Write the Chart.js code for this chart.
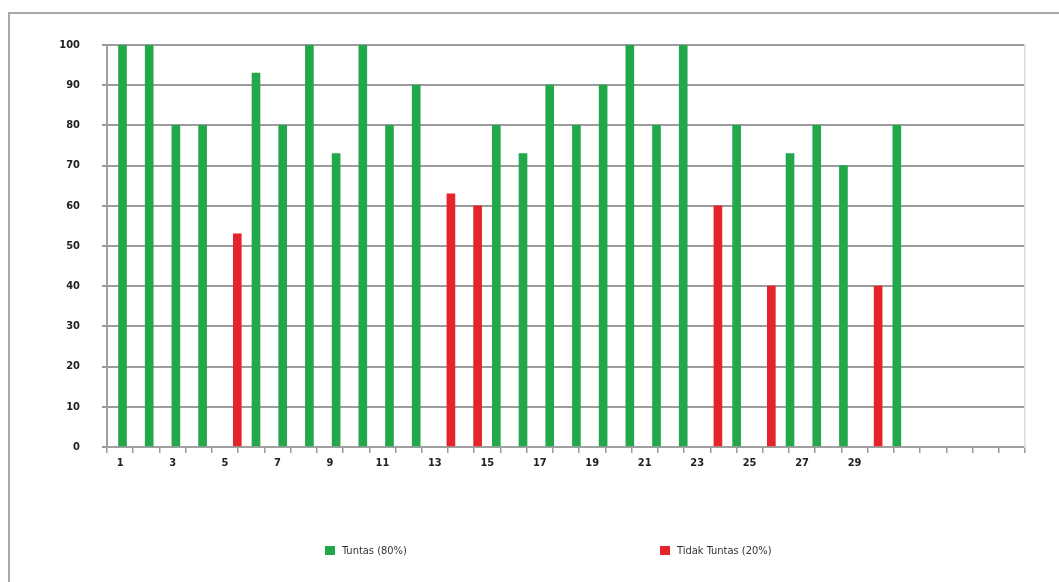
<!DOCTYPE html>
<html>
<head>
<meta charset="utf-8">
<title>Grafik Nilai Siswa</title>
<script src="https://cdn.jsdelivr.net/npm/chart.js@4.4.1/dist/chart.umd.min.js"></script>
<style>
    html, body { margin: 0; padding: 0; background: #fff; }
    #wrap { position: relative; width: 1059px; height: 582px; overflow: hidden; background: #fff; }
    #bingkai { position: absolute; left: 8px; top: 12px; width: 1120px; height: 640px;
               border-left: 2px solid #a8a8a8; border-top: 2px solid #a8a8a8; }
    #grafik { position: absolute; left: 0; top: 0; }
    .legenda { position: absolute; top: 544px; display: flex; align-items: center;
               font: 11px "Liberation Sans Narrow", "DejaVu Sans Condensed", sans-serif; color: #333; }
    .legenda .kotak { display: inline-block; width: 10px; height: 9px; margin-right: 7px; }
</style>
</head>
<body>
<div id="wrap">
    <div id="bingkai"></div>
    <canvas id="grafik" width="1059" height="582"></canvas>
</div>
<script>
// Nomor siswa dan nilai masing-masing
const nomorSiswa = [1, 2, 3, 4, 5, 6, 7, 8, 9, 10, 11, 12, 13, 14, 15,
                    16, 17, 18, 19, 20, 21, 22, 23, 24, 25, 26, 27, 28, 29, 30];
const nilai = [100, 100, 80, 80, 53, 93, 80, 100, 73, 100, 80, 90, 63, 60, 80,
               73, 90, 80, 90, 100, 80, 100, 60, 80, 40, 73, 80, 70, 40, 80];
const KKM = 70;

// Label sumbu X (35 kolom, hanya nomor ganjil yang ditulis)
const labelSumbuX = ["1", "", "3", "", "5", "", "7", "", "9", "", "11", "", "13", "", "15", "",
                     "17", "", "19", "", "21", "", "23", "", "25", "", "27", "", "29", "",
                     "", "", "", "", ""];

const seri = [
    { label: "Tuntas (80%)",       warna: "#22a84a", lulus: true  },
    { label: "Tidak Tuntas (20%)", warna: "#e5232b", lulus: false },
];

const datasets = seri.map(s => ({
    label: s.label,
    backgroundColor: s.warna,
    borderWidth: 0,
    barThickness: 8,
    xAxisID: "xb",
    data: nomorSiswa
        .map((n, i) => ({ x: n, y: nilai[i] }))
        .filter(p => (p.y >= KKM) === s.lulus),
}));

const hurufSumbu = { family: '"Liberation Sans Narrow", "DejaVu Sans Condensed", sans-serif', size: 11, weight: "bold" };

new Chart(document.getElementById("grafik").getContext("2d"), {
    type: "bar",
    data: { datasets },
    options: {
        responsive: false,
        animation: false,
        layout: { padding: { left: 20, right: 34, top: 45, bottom: 0 } },
        plugins: {
            legend: { display: false },
            tooltip: { enabled: false },
        },
        scales: {
            // sumbu tampak untuk nomor siswa
            x: {
                type: "category",
                labels: labelSumbuX,
                position: "bottom",
                offset: true,
                grid: { offset: true, drawOnChartArea: false, drawTicks: true, tickLength: 6, color: "#9a9a9a", lineWidth: 1.5 },
                border: { color: "#a0a0a0", width: 2 },
                ticks: { autoSkip: false, maxRotation: 0, padding: 4, color: "#222", font: hurufSumbu },
                afterFit: s => { s.height = 135; },
            },
            // sumbu posisi batang
            xb: {
                type: "linear",
                display: false,
                offset: false,
                min: 0.27,
                max: 34.65,
            },
            y: {
                position: "left",
                min: 0,
                max: 100,
                ticks: { stepSize: 10, padding: 22, color: "#222", font: hurufSumbu },
                grid: { color: "#9c9c9c", lineWidth: 2, tickLength: 5 },
                border: { color: "#a0a0a0", width: 2 },
                afterFit: s => { s.width = 87; },
            },
            yKanan: {
                position: "right",
                ticks: { display: false },
                grid: { drawOnChartArea: false, drawTicks: false },
                border: { color: "#dcdcdc", width: 1.5 },
                afterFit: s => { s.width = 0; },
            },
        },
    },
});

// legenda di bawah grafik
const posisiLegenda = [325, 660];
seri.forEach((s, i) => {
    const el = document.createElement("div");
    el.className = "legenda";
    el.style.left = posisiLegenda[i] + "px";
    el.innerHTML = '<span class="kotak" style="background:' + s.warna + '"></span>' + s.label;
    document.getElementById("wrap").appendChild(el);
});
</script>
</body>
</html>
